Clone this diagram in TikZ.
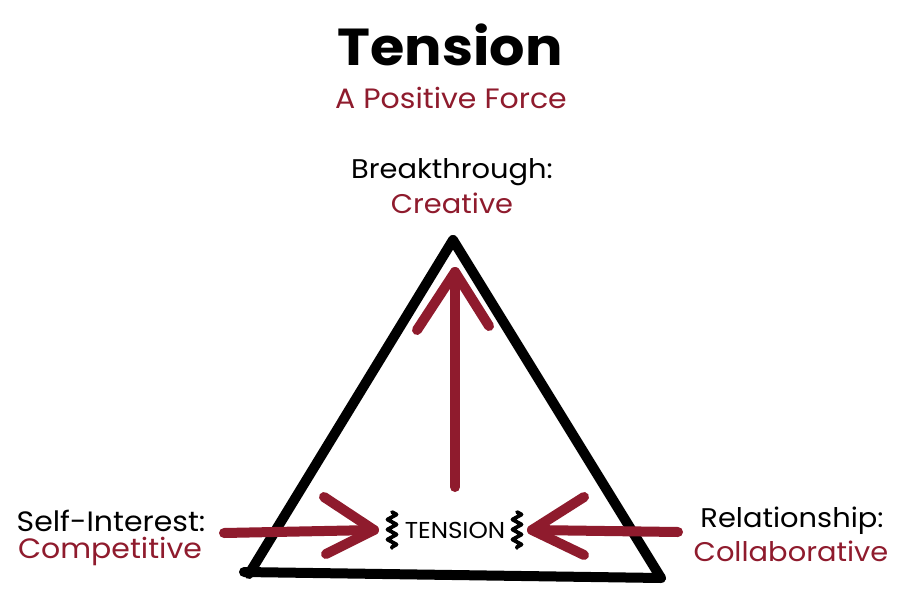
\documentclass[tikz,border=0pt]{standalone}
\usepackage{fontspec}
\setmainfont[FakeStretch=1.07]{Poppins}
\usetikzlibrary{decorations.pathmorphing}
\definecolor{tred}{HTML}{8F1B2D}
\tikzset{
  side/.style={line width=10pt, line cap=round, line join=round, black},
  shaft/.style={line width=10pt, line cap=round, line join=round, tred},
  chev/.style={line width=10pt, line cap=round, line join=round, tred},
  blk/.style={text=black, inner sep=0pt},
  rd/.style={text=tred, inner sep=0pt},
  squig/.style={line width=3.8pt, black, line join=round, line cap=round, decorate, decoration={zigzag, segment length=10pt, amplitude=4.5pt}}
}
\begin{document}
\begin{tikzpicture}[x=1pt,y=-1pt]
\useasboundingbox[fill=white] (0,0) rectangle (900,600);
% titles
\node[blk, font=\fontsize{52}{54}\selectfont\bfseries] (title) at (450,45) {Tension};
\node[rd, font=\fontsize{28}{30}\selectfont] (sub) at (451,98) {A Positive Force};
\node[blk, font=\fontsize{27}{29}\selectfont] (bt) at (452,172) {Breakthrough:};
\node[rd, font=\fontsize{27}{29}\selectfont] (cr) at (452,203) {Creative};
\node[blk, font=\fontsize{28}{30}\selectfont] (si) at (111,521) {Self-Interest:};
\node[rd, font=\fontsize{28}{30}\selectfont] (co) at (110,551) {Competitive};
\node[blk, font=\fontsize{27}{29}\selectfont] (rl) at (792,521) {Relationship:};
\node[rd, font=\fontsize{27}{29}\selectfont] (cl) at (791,551) {Collaborative};
% triangle
\coordinate (A) at (453,240);
\coordinate (BL) at (249,574);
\coordinate (BR) at (661,578);
\draw[side] (A) -- (BL);
\draw[side] (A) -- (BR);
\draw[side] (244,572) -- (BR);
% center
\node[blk, font=\fontsize{23}{25}\selectfont] (ten) at (455,530) {TENSION};
\coordinate (sq1a) at (392,512);
\coordinate (sq1b) at (392,548);
\coordinate (sq2a) at (517,512);
\coordinate (sq2b) at (517,548);
\draw[squig] (sq1a) -- (sq1b);
\draw[squig] (sq2a) -- (sq2b);
% up arrow
\coordinate (u0) at (455,487);
\coordinate (u1) at (455,272);
\draw[shaft] (u0) -- (u1);
\draw[chev] (u1) ++(-38,58) -- (u1) -- ++(34,54);
% left arrow
\coordinate (l0) at (224,533);
\coordinate (l1) at (374,530);
\draw[shaft] (l0) -- (l1);
\draw[chev] (l1) ++(-50,-33) -- (l1) -- ++(-48,24);
% right arrow
\coordinate (r0) at (678,532);
\coordinate (r1) at (532,530);
\draw[shaft] (r0) -- (r1);
\draw[chev] (r1) ++(52,-33) -- (r1) -- ++(52,25);
\end{tikzpicture}
\end{document}
